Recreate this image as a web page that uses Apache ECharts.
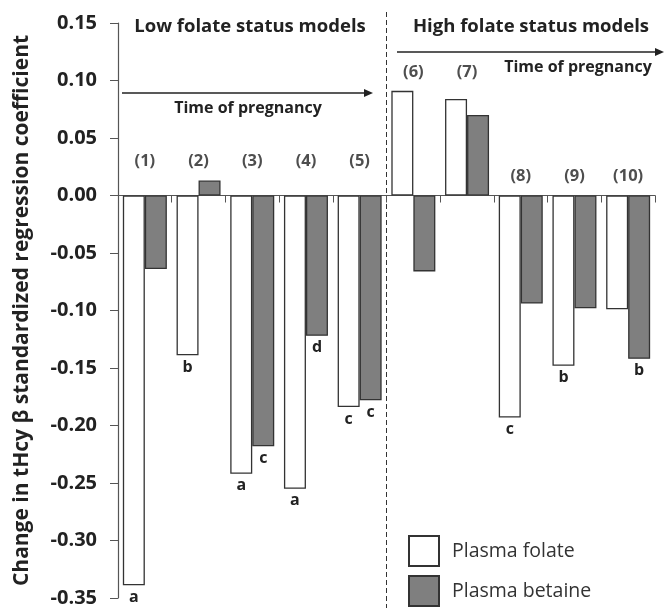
<!DOCTYPE html>
<html>
<head>
<meta charset="utf-8">
<script src="https://cdn.jsdelivr.net/npm/echarts@6/dist/echarts.min.js"></script>
<style>html,body{margin:0;padding:0;background:#fff;}#c{width:664px;height:608px;}</style>
</head>
<body>
<div id="c"></div>
<script>
var categories = ['(1)','(2)','(3)','(4)','(5)','(6)','(7)','(8)','(9)','(10)'];
var folate  = [-0.339, -0.139, -0.242, -0.255, -0.184, 0.091, 0.084, -0.193, -0.148, -0.099];
var betaine = [-0.064,  0.013, -0.218, -0.122, -0.178, -0.066, 0.070, -0.094, -0.098, -0.142];
var folateLetters  = ['a','b','a','a','c','','','c','b',''];
var betaineLetters = ['','','c','d','c','','','','','b'];
var yTicks = [-0.35,-0.30,-0.25,-0.20,-0.15,-0.10,-0.05,0.00,0.05,0.10,0.15];

var FONT = '"Open Sans"';
var chart = echarts.init(document.getElementById('c'), null, {renderer:'canvas'});

function barData(vals, letters){
  return vals.map(function(v,i){
    return {value:v, label:{show: !!letters[i], formatter: letters[i], position:'bottom', distance:4,
      fontFamily:FONT, fontWeight:'bold', fontSize:16, color:'#222'}};
  });
}
// level of model number labels (annotation placement)
function labelLevel(i){ return i < 5 ? 0.030 : (i < 7 ? 0.107 : 0.017); }

var legendText = {fontFamily:FONT, fontSize:19.5, color:'#333', padding:[0,0,0,8]};

var option = {
  animation:false,
  backgroundColor:'#fff',
  grid:{left:118, right:9, top:23, bottom:8},
  xAxis:{type:'category', data:categories,
    axisLine:{onZero:true, lineStyle:{color:'#555', width:1.2}},
    axisTick:{show:true, inside:false, length:7, lineStyle:{color:'#555'}},
    axisLabel:{show:false}, splitLine:{show:false}},
  yAxis:{type:'value', min:-0.35, max:0.15, interval:0.05,
    axisLine:{show:true, lineStyle:{color:'#555', width:1.2}},
    axisTick:{show:true, length:8, lineStyle:{color:'#555'}},
    splitLine:{show:false},
    axisLabel:{formatter:function(v){return v.toFixed(2);}, fontFamily:FONT, fontWeight:'bold', fontSize:20, color:'#222', margin:21},
    name:'Change in tHcy β standardized regression coefficient', nameLocation:'middle', nameGap:85,
    nameTextStyle:{fontFamily:FONT, fontWeight:'bold', fontSize:21, color:'#222'}},
  legend:[
    {left:403, top:530, itemWidth:30, itemHeight:30, icon:'rect', textStyle:legendText, data:['Plasma folate']},
    {left:403, top:570, itemWidth:30, itemHeight:30, icon:'rect', textStyle:legendText, data:['Plasma betaine']}
  ],
  series:[
    {name:'Plasma folate', type:'bar', data:barData(folate, folateLetters), barWidth:22, barGap:'0%',
     itemStyle:{color:'#fff', borderColor:'#333', borderWidth:1.3}},
    {name:'Plasma betaine', type:'bar', data:barData(betaine, betaineLetters), barWidth:22, barGap:'0%',
     itemStyle:{color:'#7f7f7f', borderColor:'#333', borderWidth:1.3}},
    {type:'scatter', symbolSize:0, silent:true,
     data:categories.map(function(c,i){return [i, labelLevel(i)];}),
     label:{show:true, position:'inside', formatter:function(p){return categories[p.dataIndex];},
       fontFamily:FONT, fontWeight:'bold', fontSize:16.5, color:'#222'}}
  ],
  graphic:[
    {type:'line', shape:{x1:386.5, y1:12, x2:386.5, y2:608}, style:{stroke:'#333', lineWidth:1, lineDash:[5,3]}},
    {type:'text', x:250, y:27, style:{text:'Low folate status models', font:'bold 18.5px '+FONT, fill:'#222', align:'center', verticalAlign:'middle'}},
    {type:'text', x:531, y:27, style:{text:'High folate status models', font:'bold 18.5px '+FONT, fill:'#222', align:'center', verticalAlign:'middle'}},
    {type:'line', shape:{x1:122, y1:93, x2:366, y2:93}, style:{stroke:'#222', lineWidth:1.3}},
    {type:'polygon', shape:{points:[[373,93],[364,89],[364,97]]}, style:{fill:'#222'}},
    {type:'text', x:248, y:108, style:{text:'Time of pregnancy', font:'bold 16px '+FONT, fill:'#222', align:'center', verticalAlign:'middle'}},
    {type:'line', shape:{x1:397, y1:52, x2:657, y2:52}, style:{stroke:'#222', lineWidth:1.3}},
    {type:'polygon', shape:{points:[[664,52],[655,48],[655,56]]}, style:{fill:'#222'}},
    {type:'text', x:578, y:67, style:{text:'Time of pregnancy', font:'bold 16px '+FONT, fill:'#222', align:'center', verticalAlign:'middle'}}
  ]
};
chart.setOption(option);
</script>
</body>
</html>
